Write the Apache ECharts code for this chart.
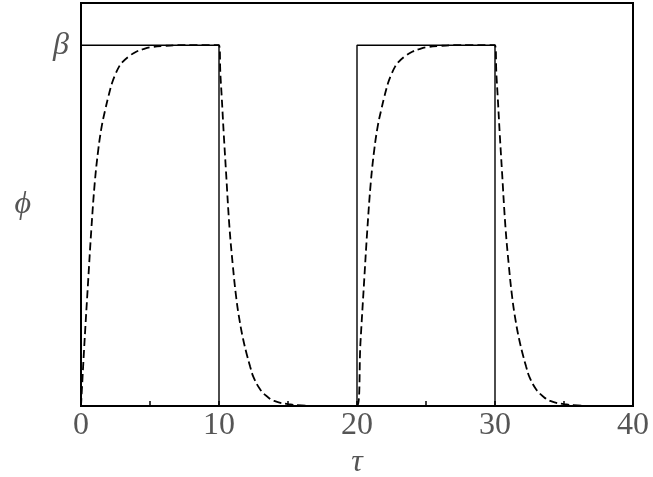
<!DOCTYPE html>
<html>
<head>
<meta charset="utf-8">
<script src="https://cdn.jsdelivr.net/npm/echarts@6/dist/echarts.min.js"></script>
<style>html,body{margin:0;padding:0;background:#fff}#c{width:653px;height:477px}</style>
</head>
<body>
<div id="c"></div>
<script>
// Square-wave input (solid line)
const inputT   = [0, 0, 10, 10, 20, 20, 30, 30, 40];
const inputPhi = [0, 1, 1,  0,  0,  1,  1,  0,  0];

// Response (dashed line)
const responseT = [
  0, 0.25, 0.5, 0.75, 1, 1.25, 1.5, 1.75, 2, 2.25, 2.5, 2.75, 3, 3.5, 4, 4.5, 5, 6, 7, 8, 10,
  10.1, 10.2, 10.35, 10.5, 10.75, 11, 11.25, 11.5, 11.75, 12, 12.25, 12.5, 13, 13.5, 14, 15, 16, 17, 18, 20,
  20.25, 20.5, 20.75, 21, 21.25, 21.5, 21.75, 22, 22.25, 22.5, 22.75, 23, 23.5, 24, 24.5, 25, 26, 27, 28, 30,
  30.1, 30.2, 30.35, 30.5, 30.75, 31, 31.25, 31.5, 31.75, 32, 32.25, 32.5, 33, 33.5, 34, 35, 36, 37, 38, 40
];
const responsePhi = [
  0, 0.175, 0.335, 0.49, 0.62, 0.71, 0.775, 0.82, 0.86, 0.895, 0.92, 0.94, 0.953, 0.97, 0.982, 0.989, 0.994, 0.998, 1, 1, 1,
  0.92, 0.855, 0.75, 0.655, 0.5, 0.39, 0.3, 0.235, 0.185, 0.145, 0.11, 0.08, 0.045, 0.026, 0.014, 0.005, 0.002, 0, 0, 0,
  0.175, 0.335, 0.49, 0.62, 0.71, 0.775, 0.82, 0.86, 0.895, 0.92, 0.94, 0.953, 0.97, 0.982, 0.989, 0.994, 0.998, 1, 1, 1,
  0.92, 0.855, 0.75, 0.655, 0.5, 0.39, 0.3, 0.235, 0.185, 0.145, 0.11, 0.08, 0.045, 0.026, 0.014, 0.005, 0.002, 0, 0, 0
];

const xTicks = [0, 10, 20, 30, 40];
const yTickLabels = {1: 'β'};

const chart = echarts.init(document.getElementById('c'), null, {renderer: 'canvas'});
const serif = 'Liberation Serif';
chart.setOption({
  animation: false,
  backgroundColor: '#fff',
  grid: {left: 81, right: 20, top: 3, bottom: 71, show: true, borderColor: '#000', borderWidth: 2,
         backgroundColor: 'transparent', containLabel: false, outerBoundsMode: 'none'},
  xAxis: {
    type: 'value', min: xTicks[0], max: xTicks[xTicks.length - 1], interval: 10,
    name: 'τ', nameLocation: 'middle', nameGap: 40,
    nameTextStyle: {fontFamily: serif, fontStyle: 'italic', fontSize: 32, color: '#555'},
    axisLine: {show: false},
    axisTick: {show: true, inside: true, length: 5, lineStyle: {color: '#000', width: 1.5}},
    minorTick: {show: true, splitNumber: 2, length: 5, lineStyle: {color: '#000', width: 1.5}},
    splitLine: {show: false},
    axisLabel: {fontFamily: serif, fontSize: 32, color: '#555', margin: 4, showMinLabel: true, showMaxLabel: true}
  },
  yAxis: {
    type: 'value', min: 0, max: 1.117, interval: 1,
    name: 'ϕ', nameLocation: 'middle', nameGap: 50, nameRotate: 0,
    nameTextStyle: {fontFamily: serif, fontStyle: 'italic', fontSize: 32, color: '#555'},
    axisLine: {show: false},
    axisTick: {show: false},
    splitLine: {show: false},
    axisLabel: {fontFamily: serif, fontStyle: 'italic', fontSize: 32, color: '#555', margin: 12,
      formatter: v => yTickLabels[v] || ''}
  },
  series: [
    {
      type: 'line', data: inputT.map((t, i) => [t, inputPhi[i]]),
      showSymbol: false, lineStyle: {color: '#000', width: 1.4}, z: 3
    },
    {
      type: 'line', data: responseT.map((t, i) => [t, responsePhi[i]]),
      showSymbol: false, smooth: 0.4,
      lineStyle: {color: '#000', width: 1.8, type: [8, 4]}, z: 4
    }
  ]
});
</script>
</body>
</html>
